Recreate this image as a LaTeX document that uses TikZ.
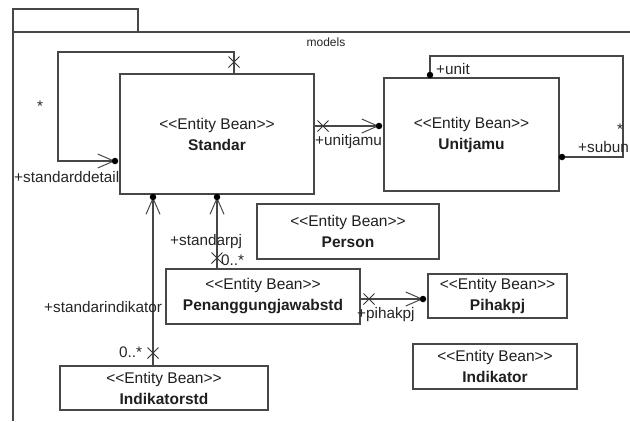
\documentclass[tikz,border=0pt]{standalone}
\usepackage{fontspec}
\setmainfont{Liberation Sans}
\usetikzlibrary{arrows.meta,shapes.misc,calc}
\newcommand\entbean{<{}<Entity Bean>{}>}
\begin{document}
\begin{tikzpicture}[x=1pt,y=-1pt,
  ln/.style={draw=black!72,line width=1.15pt},
  ent/.style={ln,fill=white,align=center,inner sep=0pt,text=black!88,
    font=\fontsize{15.5}{21}\selectfont},
  lbl/.style={inner sep=0pt,text=black!85,font=\fontsize{15.3}{18}\selectfont},
  assoc/.style={ln,-{Straight Barb[length=16pt,width=14pt,line width=1pt]}},
  loopln/.style={ln},
  xmark/.style={draw=black!80,line width=1pt,cross out,minimum size=10pt,inner sep=0pt},
  dotm/.style={circle,fill=black,inner sep=0pt,minimum size=6.5pt}
]
\useasboundingbox (0,0) rectangle (630,421);
\fill[white] (0,0) rectangle (630,421);
% package frame
\draw[ln] (13,32) rectangle (138,9);
\draw[ln] (13,421) -- (13,32) -- (630,32);
\node[lbl,font=\fontsize{12}{14}\selectfont] (models) at (326,42) {models};

% entities
\node[ent,minimum width=194pt,minimum height=120pt] (std) at (217,134) {\entbean\\\textbf{Standar}};
\node[ent,minimum width=175pt,minimum height=113pt] (uj) at (471.5,134.5) {\entbean\\\textbf{Unitjamu}};
\node[ent,minimum width=182pt,minimum height=55pt] (per) at (348,231.5) {\entbean\\\textbf{Person}};
\node[ent,minimum width=194pt,minimum height=55pt] (pen) at (263,296.5) {\entbean\\\textbf{Penanggungjawabstd}};
\node[ent,minimum width=208pt,minimum height=44pt] (ind) at (164,388) {\entbean\\\textbf{Indikatorstd}};
\node[ent,minimum width=139pt,minimum height=44pt] (pih) at (497.5,296) {\entbean\\\textbf{Pihakpj}};
\node[ent,minimum width=164pt,minimum height=45pt] (ik) at (495,366.5) {\entbean\\\textbf{Indikator}};

% end coordinates (dots)
\coordinate (d1) at (115,161);
\coordinate (d2) at (379,126);
\coordinate (d3) at (217,197);
\coordinate (d4) at (153,197);
\coordinate (d5) at (423,299);
\coordinate (d6) at (430,75);
\coordinate (d7) at (562,157);

% Standar self association
\draw[assoc] (234,0 |- std.north) -- (234,52) -- (58,52) -- (58,161) -- (d1);
\node[xmark] (x1) at (234,62) {};
\node[dotm] at (d1) {};
\node[lbl] (s1) at (40,106) {*};
\node[lbl,anchor=west] (l1) at (14,177) {+standarddetail};

% Standar -> Unitjamu
\draw[assoc] (std.east |- 0,126) -- (d2);
\node[xmark] (x2) at (323,126) {};
\node[dotm] at (d2) {};
\node[lbl,anchor=west] (l2) at (315,142) {+unitjamu};

% Unitjamu self association
\draw[loopln] (d6) -- (430,56) -- (623,56) -- (623,157) -- (d7);
\node[dotm] at (d6) {};
\node[dotm] at (d7) {};
\node[lbl,anchor=west] (l3) at (436,69) {+unit};
\node[lbl] (s2) at (620,129) {*};
\node[lbl,anchor=west] (l4) at (578,147) {+subun};

% Penanggungjawabstd -> Standar
\draw[assoc] (std.south |- pen.north) -- (d3);
\node[xmark] (x3) at (217,258) {};
\node[dotm] at (d3) {};
\node[lbl,anchor=west] (l5) at (170,242) {+standarpj};
\node[lbl,anchor=west] (l6) at (221,260) {0..*};

% Indikatorstd -> Standar
\draw[assoc] (153,0 |- ind.north) -- (d4);
\node[xmark] (x4) at (153,353) {};
\node[dotm] at (d4) {};
\node[lbl,anchor=west] (l7) at (44,307) {+standarindikator};
\node[lbl,anchor=west] (l8) at (119,352) {0..*};

% Penanggungjawabstd -> Pihakpj
\draw[assoc] (pen.east |- 0,299) -- (d5);
\node[xmark] (x5) at (369,299) {};
\node[dotm] at (d5) {};
\node[lbl,anchor=west] (l9) at (357,315) {+pihakpj};
\end{tikzpicture}
\end{document}
